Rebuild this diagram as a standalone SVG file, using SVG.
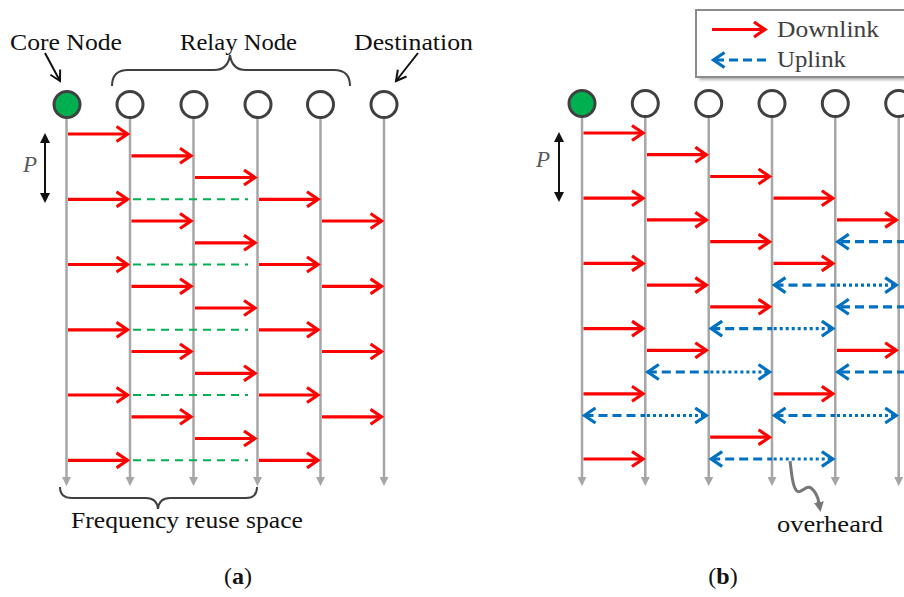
<svg xmlns="http://www.w3.org/2000/svg" width="904" height="597" viewBox="0 0 904 597">
<style>
.t{font-family:"Liberation Serif","Times New Roman",serif;font-size:23px;fill:#111}
.lg{font-family:"Liberation Serif","Times New Roman",serif;font-size:23px;fill:#404040}
.cap{font-family:"Liberation Serif","Times New Roman",serif;font-size:24px;fill:#111}
.vl{stroke:#a6a6a6;stroke-width:2.5;fill:none;marker-end:url(#gh)}
.node{fill:#fff;stroke:#404040;stroke-width:3}
.core{fill:#00b050;stroke:#404040;stroke-width:3}
.dl{stroke:#ff0000;stroke-width:3.2;fill:none;marker-end:url(#rh)}
.reuse{stroke:#00b050;stroke-width:2;stroke-dasharray:8 6;fill:none}
.ud{stroke:#0070c0;stroke-width:3.2;stroke-dasharray:9 5;fill:none}
.uo{stroke:#0070c0;stroke-width:3.2;stroke-dasharray:3 3;fill:none}
.brace{stroke:#404040;stroke-width:2;fill:none}
</style>
<defs>
<marker id="rh" markerUnits="userSpaceOnUse" viewBox="0 0 16 18" refX="12" refY="9" markerWidth="16" markerHeight="18" orient="auto-start-reverse"><path d="M1,1.5 L12,9 L1,16.5" fill="none" stroke="#ff0000" stroke-width="3.2"/></marker>
<marker id="bh" markerUnits="userSpaceOnUse" viewBox="0 0 16 18" refX="12" refY="9" markerWidth="16" markerHeight="18" orient="auto-start-reverse"><path d="M1,1.5 L12,9 L1,16.5" fill="none" stroke="#0070c0" stroke-width="3.2"/></marker>
<marker id="gh" markerUnits="userSpaceOnUse" viewBox="0 0 10 10" refX="1" refY="5" markerWidth="9" markerHeight="9" orient="auto"><path d="M0,0 L10,5 L0,10 z" fill="#a6a6a6"/></marker>
<marker id="kh" markerUnits="userSpaceOnUse" viewBox="0 0 14 14" refX="11" refY="7" markerWidth="14" markerHeight="14" orient="auto"><path d="M1,1.5 L11,7 L1,12.5" fill="none" stroke="#111" stroke-width="2"/></marker>
<marker id="kf" markerUnits="userSpaceOnUse" viewBox="0 0 10 10" refX="1" refY="5" markerWidth="10" markerHeight="10" orient="auto-start-reverse"><path d="M0,0 L10,5 L0,10 z" fill="#111"/></marker>
<marker id="oh" markerUnits="userSpaceOnUse" viewBox="0 0 10 10" refX="1" refY="5" markerWidth="10" markerHeight="10" orient="auto"><path d="M0,0 L10,5 L0,10 z" fill="#777"/></marker>
<filter id="sh" x="-10%" y="-20%" width="130%" height="160%"><feGaussianBlur stdDeviation="1.5"/></filter>
</defs>

<!-- Panel (a) labels -->
<g id="labels-a">
<text class="t" x="10" y="50" textLength="112" lengthAdjust="spacingAndGlyphs">Core Node</text>
<text class="t" x="180" y="50" textLength="117" lengthAdjust="spacingAndGlyphs">Relay Node</text>
<text class="t" x="354" y="50" textLength="119" lengthAdjust="spacingAndGlyphs">Destination</text>
<path class="brace" d="M112,86 Q112,70 128,70 L214,70 Q228,70 230,55 Q232,70 246,70 L334,70 Q350,70 350,86"/>
<line x1="45" y1="53" x2="60" y2="81" stroke="#111" stroke-width="2" marker-end="url(#kh)"/>
<line x1="418" y1="53" x2="396" y2="81" stroke="#111" stroke-width="2" marker-end="url(#kh)"/>
<line x1="45" y1="142" x2="45" y2="194" stroke="#111" stroke-width="2" marker-start="url(#kf)" marker-end="url(#kf)"/>
<text x="23" y="172" style="font-family:'Liberation Serif',serif;font-size:23px;font-style:italic;fill:#595959">P</text>
<path class="brace" d="M60,487 Q60,498 72,498 L146,498 Q157,498 158,509 Q159,498 170,498 L246,498 Q257,498 257,487"/>
<text class="t" x="71" y="528" textLength="232" lengthAdjust="spacingAndGlyphs">Frequency reuse space</text>
<text class="cap" x="238" y="584" text-anchor="middle">(<tspan font-weight="bold">a</tspan>)</text>
</g>

<!-- Panel (a) timelines -->
<g id="timelines-a">
<line class="vl" x1="66.5" y1="118" x2="66.5" y2="478"/>
<line class="vl" x1="130" y1="118" x2="130" y2="478"/>
<line class="vl" x1="193.5" y1="118" x2="193.5" y2="478"/>
<line class="vl" x1="257.5" y1="118" x2="257.5" y2="478"/>
<line class="vl" x1="320.5" y1="118" x2="320.5" y2="478"/>
<line class="vl" x1="384" y1="118" x2="384" y2="478"/>
</g>
<g id="a-core"><circle class="core" cx="67" cy="104.5" r="13"/></g>
<g id="a-relay1"><circle class="node" cx="130" cy="104.5" r="13"/></g>
<g id="a-relay2"><circle class="node" cx="194" cy="104.5" r="13"/></g>
<g id="a-relay3"><circle class="node" cx="258" cy="104.5" r="13"/></g>
<g id="a-relay4"><circle class="node" cx="320.5" cy="104.5" r="13"/></g>
<g id="a-dest"><circle class="node" cx="384" cy="104.5" r="13"/></g>

<g id="connectors-a">
<line class="dl" x1="68" y1="134" x2="127.5" y2="134"/>
<line class="dl" x1="131.5" y1="155.8" x2="191" y2="155.8"/>
<line class="dl" x1="195" y1="177.5" x2="255" y2="177.5"/>
<line class="dl" x1="68" y1="199.3" x2="127.5" y2="199.3"/>
<line class="reuse" x1="133" y1="199.3" x2="248" y2="199.3"/>
<line class="dl" x1="259" y1="199.3" x2="318" y2="199.3"/>
<line class="dl" x1="131.5" y1="221" x2="191" y2="221"/>
<line class="dl" x1="322" y1="221" x2="381.5" y2="221"/>
<line class="dl" x1="195" y1="242.8" x2="255" y2="242.8"/>
<line class="dl" x1="68" y1="264.5" x2="127.5" y2="264.5"/>
<line class="reuse" x1="133" y1="264.5" x2="248" y2="264.5"/>
<line class="dl" x1="259" y1="264.5" x2="318" y2="264.5"/>
<line class="dl" x1="131.5" y1="286.3" x2="191" y2="286.3"/>
<line class="dl" x1="322" y1="286.3" x2="381.5" y2="286.3"/>
<line class="dl" x1="195" y1="308" x2="255" y2="308"/>
<line class="dl" x1="68" y1="329.8" x2="127.5" y2="329.8"/>
<line class="reuse" x1="133" y1="329.8" x2="248" y2="329.8"/>
<line class="dl" x1="259" y1="329.8" x2="318" y2="329.8"/>
<line class="dl" x1="131.5" y1="351.5" x2="191" y2="351.5"/>
<line class="dl" x1="322" y1="351.5" x2="381.5" y2="351.5"/>
<line class="dl" x1="195" y1="373.3" x2="255" y2="373.3"/>
<line class="dl" x1="68" y1="395" x2="127.5" y2="395"/>
<line class="reuse" x1="133" y1="395" x2="248" y2="395"/>
<line class="dl" x1="259" y1="395" x2="318" y2="395"/>
<line class="dl" x1="131.5" y1="416.8" x2="191" y2="416.8"/>
<line class="dl" x1="322" y1="416.8" x2="381.5" y2="416.8"/>
<line class="dl" x1="195" y1="438.5" x2="255" y2="438.5"/>
<line class="dl" x1="68" y1="460.3" x2="127.5" y2="460.3"/>
<line class="reuse" x1="133" y1="460.3" x2="248" y2="460.3"/>
<line class="dl" x1="259" y1="460.3" x2="318" y2="460.3"/>
</g>

<!-- Panel (b) -->
<g id="legend">
<rect x="699" y="13" width="220" height="67" fill="#b0b0b0" filter="url(#sh)"/>
<rect x="696" y="10" width="220" height="67" fill="#fff" stroke="#8c8c8c" stroke-width="2"/>
<line class="dl" x1="712" y1="29.5" x2="765" y2="29.5"/>
<text class="lg" x="777" y="37.3" textLength="102" lengthAdjust="spacingAndGlyphs">Downlink</text>
<path d="M766,60 L713.5,60" class="ud" marker-end="url(#bh)"/>
<text class="lg" x="777" y="66.5" textLength="69" lengthAdjust="spacingAndGlyphs">Uplink</text>
</g>

<g id="timelines-b">
<line class="vl" x1="582" y1="117" x2="582" y2="478"/>
<line class="vl" x1="645.3" y1="117" x2="645.3" y2="478"/>
<line class="vl" x1="708.7" y1="117" x2="708.7" y2="478"/>
<line class="vl" x1="772" y1="117" x2="772" y2="478"/>
<line class="vl" x1="835.3" y1="117" x2="835.3" y2="478"/>
<line class="vl" x1="898.7" y1="117" x2="898.7" y2="478"/>
</g>
<g id="b-core"><circle class="core" cx="582" cy="103.5" r="13"/></g>
<g id="b-relay1"><circle class="node" cx="645.3" cy="103.5" r="13"/></g>
<g id="b-relay2"><circle class="node" cx="708.7" cy="103.5" r="13"/></g>
<g id="b-relay3"><circle class="node" cx="772" cy="103.5" r="13"/></g>
<g id="b-relay4"><circle class="node" cx="835.3" cy="103.5" r="13"/></g>
<g id="b-dest"><circle class="node" cx="898.7" cy="103.5" r="13"/></g>

<g id="connectors-b">
<line class="dl" x1="583.5" y1="133" x2="643" y2="133"/>
<line class="dl" x1="647" y1="154.7" x2="706.3" y2="154.7"/>
<line class="dl" x1="710.2" y1="176.5" x2="769.5" y2="176.5"/>
<line class="dl" x1="583.5" y1="198.2" x2="643" y2="198.2"/>
<line class="dl" x1="773.5" y1="198.2" x2="832.8" y2="198.2"/>
<line class="dl" x1="647" y1="219.9" x2="706.3" y2="219.9"/>
<line class="dl" x1="837" y1="219.9" x2="896.2" y2="219.9"/>
<line class="dl" x1="710.2" y1="241.7" x2="769.5" y2="241.7"/>
<path class="ud" d="M906,241.7 L837.8,241.7" marker-end="url(#bh)"/>
<line class="dl" x1="583.5" y1="263.4" x2="643" y2="263.4"/>
<line class="dl" x1="773.5" y1="263.4" x2="832.8" y2="263.4"/>
<line class="dl" x1="647" y1="285.1" x2="706.3" y2="285.1"/>
<path class="ud" d="M774.5,285.1 L835.3,285.1" marker-start="url(#bh)"/>
<path class="uo" d="M837,285.1 L896.2,285.1" marker-end="url(#bh)"/>
<line class="dl" x1="710.2" y1="306.8" x2="769.5" y2="306.8"/>
<path class="ud" d="M906,306.8 L837.8,306.8" marker-end="url(#bh)"/>
<line class="dl" x1="583.5" y1="328.6" x2="643" y2="328.6"/>
<path class="ud" d="M711.2,328.6 L772,328.6" marker-start="url(#bh)"/>
<path class="uo" d="M773.7,328.6 L832.8,328.6" marker-end="url(#bh)"/>
<line class="dl" x1="647" y1="350.3" x2="706.3" y2="350.3"/>
<line class="dl" x1="837" y1="350.3" x2="896.2" y2="350.3"/>
<path class="ud" d="M647.8,372 L708.7,372" marker-start="url(#bh)"/>
<path class="uo" d="M710.4,372 L769.5,372" marker-end="url(#bh)"/>
<path class="ud" d="M906,372 L837.8,372" marker-end="url(#bh)"/>
<line class="dl" x1="583.5" y1="393.8" x2="643" y2="393.8"/>
<line class="dl" x1="773.5" y1="393.8" x2="832.8" y2="393.8"/>
<path class="ud" d="M584.5,415.5 L645.3,415.5" marker-start="url(#bh)"/>
<path class="uo" d="M647,415.5 L706.2,415.5" marker-end="url(#bh)"/>
<path class="ud" d="M774.5,415.5 L835.3,415.5" marker-start="url(#bh)"/>
<path class="uo" d="M837,415.5 L896.2,415.5" marker-end="url(#bh)"/>
<line class="dl" x1="710.2" y1="437.2" x2="769.5" y2="437.2"/>
<line class="dl" x1="583.5" y1="459" x2="643" y2="459"/>
<path class="ud" d="M711.2,459 L772,459" marker-start="url(#bh)"/>
<path class="uo" d="M773.7,459 L832.8,459" marker-end="url(#bh)"/>
<path d="M790,461 C792,475 792,485 796,490 C800,496 806,484 811,488 C816,492 818,497 819,503" fill="none" stroke="#777" stroke-width="3" marker-end="url(#oh)"/>
</g>
<g id="labels-b">
<text class="t" x="777" y="532" textLength="106" lengthAdjust="spacingAndGlyphs">overheard</text>
<text x="536" y="167" style="font-family:'Liberation Serif',serif;font-size:23px;font-style:italic;fill:#595959">P</text>
<line x1="559" y1="141" x2="559" y2="193" stroke="#111" stroke-width="2" marker-start="url(#kf)" marker-end="url(#kf)"/>
<text class="cap" x="723" y="584" text-anchor="middle">(<tspan font-weight="bold">b</tspan>)</text>
</g>
</svg>
